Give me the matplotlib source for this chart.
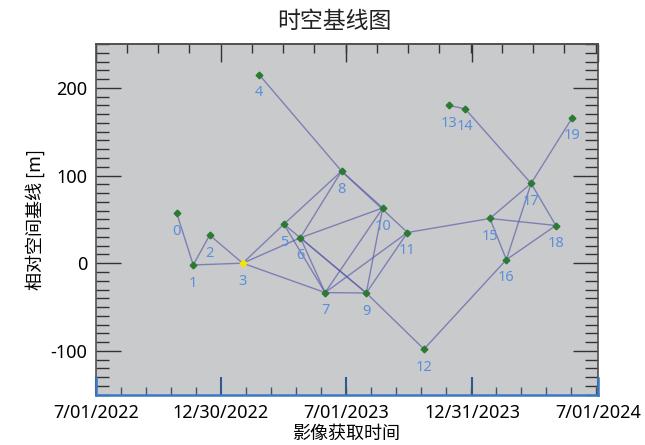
import numpy as np
import pandas as pd
import matplotlib
matplotlib.use("Agg")
import matplotlib.pyplot as plt
import matplotlib.dates as mdates
from matplotlib.ticker import FixedLocator, FixedFormatter, AutoMinorLocator, MultipleLocator

plt.rcParams['font.family'] = ['Noto Sans CJK SC', 'DejaVu Sans']
plt.rcParams['axes.unicode_minus'] = False

# acquisition dates and perpendicular baselines (m)
dates = ["2022-10-27", "2022-11-20", "2022-12-14", "2023-01-31", "2023-02-24",
         "2023-04-01", "2023-04-25", "2023-05-31", "2023-06-24", "2023-07-30",
         "2023-08-23", "2023-09-28", "2023-10-22", "2023-11-27", "2023-12-21",
         "2024-01-26", "2024-02-19", "2024-03-26", "2024-05-01", "2024-05-25"]
baseline = [57, -2, 32, 0, 215, 44.5, 29, -33.5, 105, -34,
            63, 35, -98, 180, 176, 51, 4, 91, 43, 166]
master = 3

# interferometric pairs
pairs = [(0, 1), (1, 2), (1, 3), (2, 3), (3, 5), (3, 6), (3, 7),
         (4, 8), (5, 8), (6, 8), (5, 9), (6, 9), (5, 7), (6, 7),
         (6, 10), (7, 9), (7, 10), (7, 11), (9, 10), (9, 11),
         (8, 10), (8, 11), (9, 12), (11, 15), (12, 16),
         (13, 14), (14, 17), (15, 16), (15, 17), (15, 18),
         (16, 17), (16, 18), (17, 18), (17, 19)]

tick_dates = ["2022-07-01", "2022-12-30", "2023-07-01", "2023-12-31", "2024-07-01"]
tick_labels = ["7/01/2022", "12/30/2022", "7/01/2023", "12/31/2023", "7/01/2024"]

x = mdates.date2num(pd.to_datetime(dates))
y = np.array(baseline)
xt = mdates.date2num(pd.to_datetime(tick_dates))

fig = plt.figure(figsize=(6.45, 4.45), dpi=100)
ax = fig.add_axes([0.1484, 0.1130, 0.7783, 0.7881])
ax.set_facecolor('#c9cacc')

for i, j in pairs:
    ax.plot([x[i], x[j]], [y[i], y[j]], color='#5558a8', alpha=0.65, lw=1.0, zorder=2)

others = [k for k in range(len(x)) if k != master]
ax.plot(x[others], y[others], 'D', color='#2b7a32', ms=3.4, zorder=3)
ax.plot(x[master], y[master], 'D', color='#f2e600', ms=3.4, zorder=3)

for k in range(len(x)):
    ax.annotate(str(k), (x[k], y[k]), xytext=(0, -13), textcoords='offset points',
                ha='center', va='center', fontsize=10.5, color='#5c8fd8',
                family='Noto Sans', zorder=4)

ax.set_xlim(xt[0], xt[-1])
ax.set_ylim(-150, 250)

ax.xaxis.set_major_locator(FixedLocator(xt))
ax.xaxis.set_major_formatter(FixedFormatter(tick_labels))
ax.xaxis.set_minor_locator(AutoMinorLocator(5))
ax.yaxis.set_major_locator(MultipleLocator(100))
ax.yaxis.set_minor_locator(MultipleLocator(10))

blue = '#3a78c2'
grey = '#505050'
for s in ['left', 'right', 'top']:
    ax.spines[s].set_color(grey)
    ax.spines[s].set_linewidth(1.2)
ax.spines['bottom'].set_color(blue)
ax.spines['bottom'].set_linewidth(1.8)

ax.tick_params(axis='y', which='major', direction='in', length=18, width=1.0,
               color='#333333', left=True, right=True, labelsize=13, pad=6)
ax.tick_params(axis='y', which='minor', direction='in', length=9.5, width=1.0,
               color='#333333', left=True, right=True)
ax.tick_params(axis='x', which='major', direction='in', length=13, width=1.5,
               color='#2d5a8c', labelsize=13, pad=7)
ax.tick_params(axis='x', which='minor', direction='in', length=6, width=1.0,
               color='#3d5670')
for lab in ax.get_xticklabels() + ax.get_yticklabels():
    lab.set_family('Noto Sans')

# top axis carries its own, coarser minor ticks
top = ax.secondary_xaxis('top')
top.xaxis.set_major_locator(FixedLocator(xt))
top.xaxis.set_minor_locator(AutoMinorLocator(4))
top.tick_params(axis='x', which='major', direction='in', length=13, width=1.0,
                color='#333333', labeltop=False)
top.tick_params(axis='x', which='minor', direction='in', length=6.5, width=1.0,
                color='#333333')
top.spines['top'].set_color(grey)
top.spines['top'].set_linewidth(1.2)

# blue end pieces at the bottom corners
for xe in (0, 1):
    ax.plot([xe, xe], [0, 0.049], transform=ax.transAxes, color=blue, lw=1.8,
            clip_on=False, zorder=5)

fig.text(0.519, 0.952, "时空基线图", ha='center', va='center', fontsize=16.5,
         fontweight='light', color='#222222')
ax.set_xlabel("影像获取时间", fontsize=13, labelpad=2)
ax.set_ylabel("相对空间基线 [m]", fontsize=13, labelpad=4)

fig.savefig("out.png", dpi=100)
